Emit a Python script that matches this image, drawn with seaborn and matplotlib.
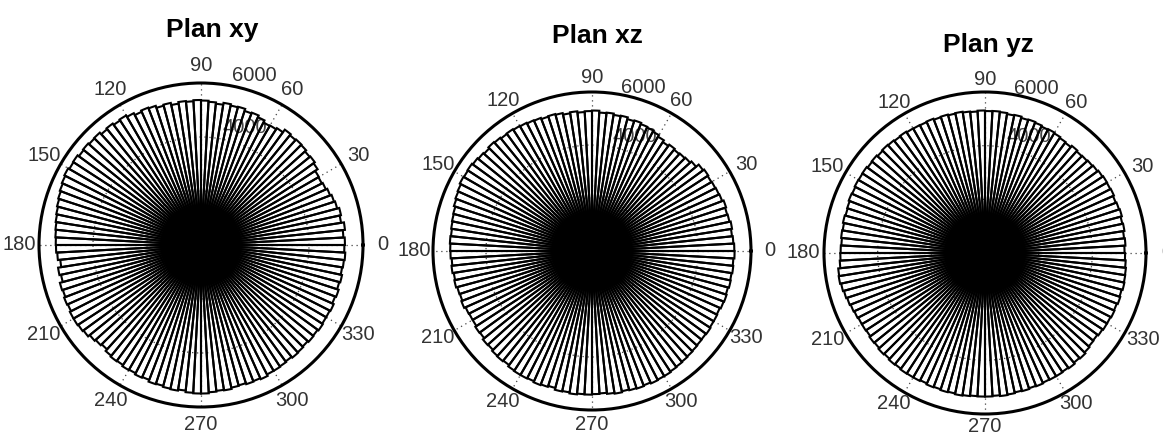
import numpy as np
import pandas as pd
import matplotlib
matplotlib.use("Agg")
import matplotlib.pyplot as plt
import seaborn as sns

# Rose histograms of orientation counts in three projection planes (3-degree bins)
bin_width_deg = 3
planes = ["Plan xy", "Plan xz", "Plan yz"]
angle_ticks = [0, 30, 60, 90, 120, 150, 180, 210, 240, 270, 300, 330]
radial_grid = [2000, 4000]
radial_max = 6000

plan_xy = [
    5330, 5280, 5360, 5250, 5300, 5220, 5180, 5120, 5060, 5020,
    5040, 5150, 5210, 5180, 5240, 5260, 5230, 5280, 5160, 5110,
    5090, 5180, 5250, 5220, 5300, 5280, 5330, 5260, 5310, 5350,
    5370, 5330, 5360, 5300, 5380, 5340, 5420, 5450, 5400, 5480,
    5540, 5500, 5560, 5520, 5600, 5580, 5620, 5590, 5650, 5630,
    5680, 5640, 5600, 5560, 5520, 5480, 5450, 5420, 5400, 5380,
    5370, 5330, 5240, 5360, 5300, 5410, 5380, 5430, 5400, 5450,
    5450, 5420, 5380, 5300, 5250, 5200, 5280, 5320, 5300, 5350,
    5330, 5380, 5350, 5420, 5400, 5440, 5460, 5420, 5480, 5500,
    5500, 5460, 5430, 5450, 5400, 5380, 5420, 5400, 5440, 5380,
    5380, 5360, 5330, 5370, 5350, 5320, 5360, 5340, 5380, 5350,
    5350, 5380, 5320, 5360, 5300, 5340, 5290, 5320, 5350, 5310,
]

plan_xz = [
    5370, 5340, 5310, 5350, 5300, 5280, 5320, 5260, 5240, 5220,
    5200, 5230, 5180, 5050, 4980, 4950, 4920, 4960, 4900, 4980,
    5050, 5100, 5130, 5180, 5150, 5220, 5200, 5250, 5230, 5300,
    5280, 5250, 5300, 5260, 5320, 5350, 5330, 5380, 5400, 5430,
    5450, 5480, 5460, 5500, 5530, 5480, 5520, 5560, 5600, 5580,
    5600, 5550, 5520, 5480, 5420, 5400, 5380, 5350, 5370, 5350,
    5340, 5300, 5330, 5280, 5310, 5260, 5240, 5280, 5220, 5200,
    5200, 5250, 5230, 5300, 5280, 5330, 5350, 5320, 5380, 5400,
    5400, 5380, 5420, 5390, 5350, 5420, 5400, 5440, 5410, 5420,
    5400, 5380, 5420, 5450, 5410, 5440, 5460, 5430, 5470, 5450,
    5450, 5420, 5400, 5380, 5360, 5340, 5320, 5310, 5330, 5300,
    5300, 5280, 5320, 5340, 5310, 5350, 5330, 5360, 5340, 5380,
]

plan_yz = [
    5200, 5240, 5210, 5260, 5230, 5280, 5250, 5220, 5260, 5240,
    5250, 5220, 5180, 5150, 5120, 5100, 5140, 5080, 5110, 5150,
    5180, 5160, 5200, 5230, 5210, 5260, 5240, 5280, 5300, 5290,
    5310, 5280, 5300, 5330, 5310, 5340, 5320, 5360, 5340, 5350,
    5360, 5390, 5370, 5400, 5420, 5390, 5430, 5410, 5450, 5440,
    5450, 5420, 5440, 5400, 5380, 5410, 5370, 5390, 5360, 5380,
    5390, 5420, 5500, 5520, 5480, 5440, 5400, 5360, 5330, 5300,
    5300, 5280, 5320, 5300, 5340, 5310, 5350, 5330, 5360, 5350,
    5350, 5320, 5360, 5340, 5370, 5350, 5380, 5360, 5340, 5350,
    5350, 5330, 5360, 5340, 5310, 5330, 5300, 5320, 5290, 5300,
    5300, 5280, 5310, 5260, 5290, 5240, 5200, 5180, 5220, 5250,
    5250, 5280, 5260, 5300, 5270, 5310, 5290, 5280, 5250, 5220,
]

counts = {"Plan xy": plan_xy, "Plan xz": plan_xz, "Plan yz": plan_yz}
n_bins = len(plan_xy)

df = pd.concat(
    [
        pd.DataFrame({
            "plane": name,
            "angle": np.arange(n_bins) * bin_width_deg,
            "count": counts[name],
        })
        for name in planes
    ],
    ignore_index=True,
)

sns.set_theme(style="white")
plt.rcParams["font.family"] = ["Liberation Sans", "DejaVu Sans"]

W, H = 1163, 437
g = sns.FacetGrid(
    df, col="plane", col_order=planes,
    subplot_kws=dict(projection="polar"),
    height=H / 100, aspect=(W / 3) / H,
    sharex=False, sharey=False, despine=False,
)


def rose(data, **kws):
    ax = plt.gca()
    theta = np.deg2rad(data["angle"].to_numpy(dtype=float))
    ax.bar(theta, data["count"].to_numpy(), width=np.deg2rad(bin_width_deg),
           align="edge", bottom=0, facecolor="none", edgecolor="black",
           linewidth=1.5, zorder=3)


g.map_dataframe(rose)
fig = g.figure
fig.set_size_inches(W / 100, H / 100)

# centre x, centre y (from top), radius in pixels, horizontal / vertical
# label distance factors; title x and baseline
layout = {
    "Plan xy": (201, 245, 162, 1.12, 1.11, 212, 37),
    "Plan xz": (592, 251, 159, 1.12, 1.09, 597, 43),
    "Plan yz": (985, 253, 161, 1.13, 1.08, 988, 52),
}

for ax, name in zip(g.axes.flat, planes):
    cx, cy, r, fx, fy, tx, ty = layout[name]
    ax.set_position([(cx - r) / W, (H - cy - r) / H, 2 * r / W, 2 * r / H])
    ax.set_title("")
    ax.set_xlabel("")
    ax.set_ylabel("")
    ax.set_ylim(0, radial_max)
    ax.set_thetagrids(angle_ticks, labels=[""] * len(angle_ticks))
    ax.set_rgrids(radial_grid, labels=[""] * len(radial_grid))
    ax.grid(True, color="#444444", linestyle=(0, (1, 3)), linewidth=0.9)
    ax.spines["polar"].set_linewidth(2.2)
    ax.spines["polar"].set_color("black")
    ax.set_facecolor("white")
    for a in angle_ticks:
        t = np.deg2rad(a)
        ax.text(0.5 + 0.5 * fx * np.cos(t), 0.5 + 0.5 * fy * np.sin(t), str(a),
                transform=ax.transAxes, ha="center", va="center",
                fontsize=14.5, color="#333333", clip_on=False)
    ax.text(np.deg2rad(72.5), radial_max * (fy - 0.01), "6000", ha="center",
            va="center", fontsize=14.5, color="#333333", clip_on=False)
    ax.text(np.deg2rad(69.5), 4630, "4000", ha="center", va="center",
            fontsize=14.5, color="#444444", zorder=1)
    fig.text(tx / W, 1 - ty / H, name, ha="center", va="baseline",
             fontsize=19, fontweight="bold", color="black")

fig.savefig("out.png", dpi=100, facecolor="white")
